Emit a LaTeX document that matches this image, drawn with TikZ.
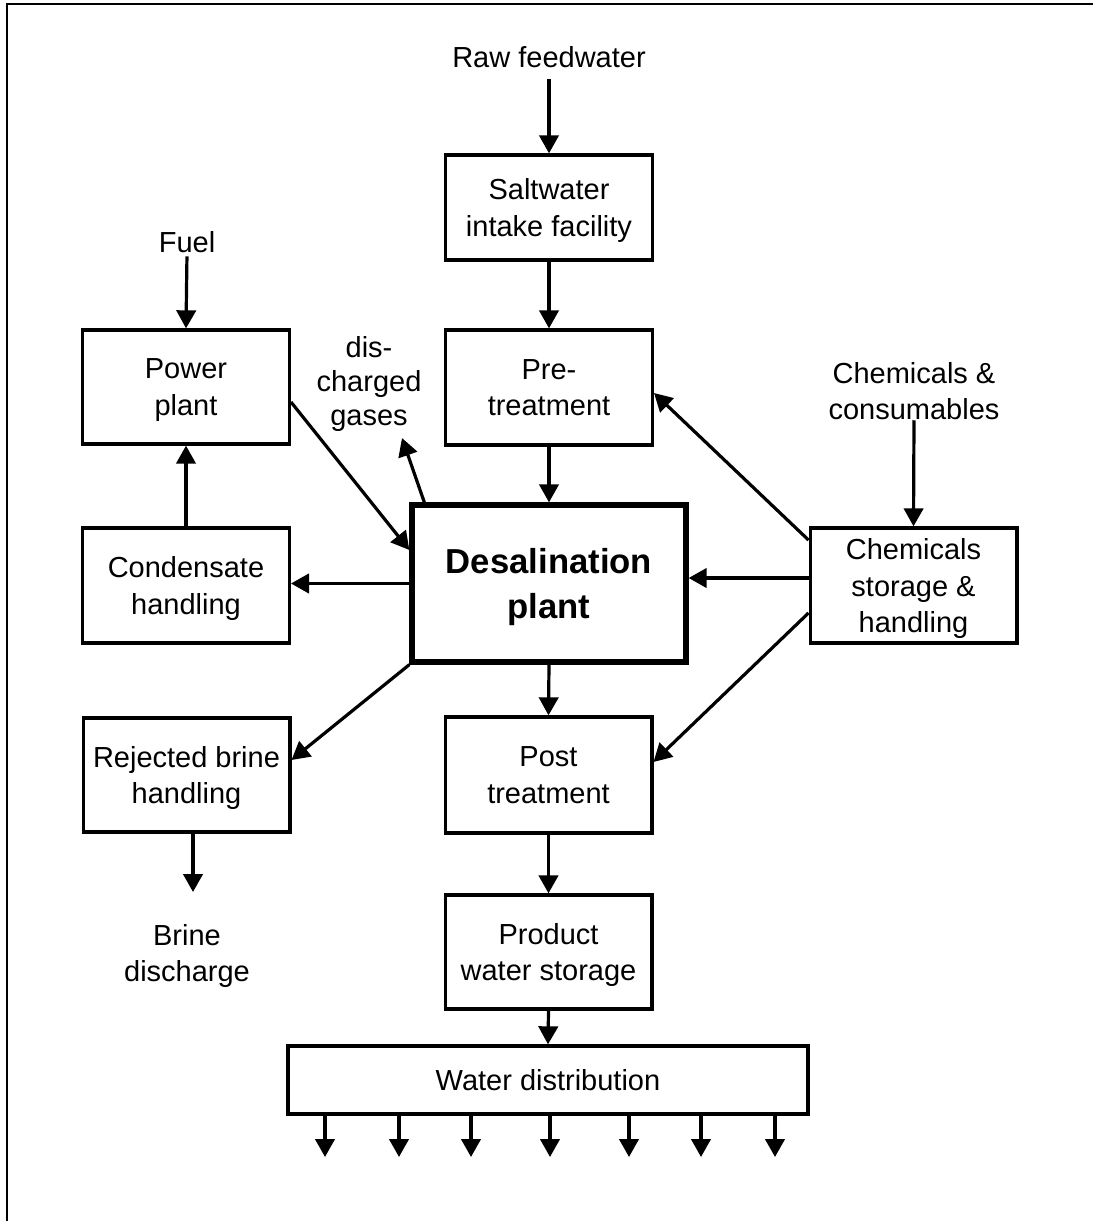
\documentclass[tikz,border=0pt]{standalone}
\usepackage{fontspec}
\setmainfont{Liberation Sans}
\usetikzlibrary{arrows.meta,calc}
\begin{document}
\begin{tikzpicture}[x=0.75pt,y=-0.75pt,
  txt/.style={font=\fontsize{21.75pt}{27.5pt}\selectfont, align=center, inner sep=0pt},
  box/.style={txt, draw, line width=2.5pt, text depth=0pt, minimum width=155pt, minimum height=86pt},
  arr/.style={line width=2.4pt, -{Triangle[length=13.5pt,width=14.5pt]}},
]
\useasboundingbox (0,0) rectangle (1093,1221);
\draw[line width=1.5pt] (7,1221) -- (7,4) -- (1093,4);

% boxes
\node[box, minimum height=78.75pt] (intake) at (549,207.5) {Saltwater\\intake facility};
\node[box, minimum height=86.25pt] (pre) at (549,387.5) {Pre-\\treatment};
\node[box, minimum height=85.5pt] (power) at (186,387) {Power\\plant};
\node[box, minimum height=86.25pt] (cond) at (186,585.5) {Condensate\\handling};
\node[box, minimum height=85.5pt] (rej) at (186.5,775) {Rejected brine\\handling};
\node[box, line width=4pt, minimum width=205.5pt, minimum height=117.75pt,
      font=\bfseries\fontsize{26pt}{34pt}\selectfont] (desal) at (549,583.5) {Desalination\\plant};
\node[box, minimum height=86.25pt] (chem) at (913.5,585.5) {Chemicals\\storage \&\\handling};
\node[box, minimum height=87pt] (post) at (548.5,775) {Post\\treatment};
\node[box, minimum height=85.5pt] (product) at (548.5,952) {Product\\water storage};
\node[box, minimum width=390pt, minimum height=51pt] (water) at (548,1080) {Water distribution};

% free labels
\node[txt] (raw) at (549,57) {Raw feedwater};
\node[txt] (fuel) at (187,242) {Fuel};
\node[txt, font=\fontsize{21.75pt}{25.5pt}\selectfont] (gases) at (369,384) {dis-\\charged\\gases};
\node[txt] (chemcons) at (914,391) {Chemicals \&\\consumables};
\node[txt] (brine) at (187,956) {Brine\\discharge};

\coordinate (gtip) at (402,438);
\coordinate (btip) at (193,892);

% main column
\draw[arr, shorten <=8pt] (raw.south) -- (intake.north);
\draw[arr] (intake.south) -- (pre.north);
\draw[arr] (pre.south) -- (desal.north);
\draw[arr] (desal.south) -- (post.north);
\draw[arr] (post.south) -- (product.north);
\draw[arr] (product.south) -- (water.north);

% left column
\draw[arr, shorten <=2.6pt] (fuel.south) -- (power.north);
\draw[arr] (cond.north) -- (power.south);
\draw[arr] (desal.west) -- (desal.west -| cond.east);
\draw[arr] ($(power.east)+(0,15)$) -- ($(desal.west)+(0,-33.5)$);
\draw[arr] ($(desal.north west)+(15,0)$) -- (gtip);
\draw[arr] (desal.south west) -- ($(rej.east)+(0,-15)$);
\draw[arr] (rej.south -| btip) -- (btip);

% right column
\draw[arr] (chemcons.south) -- (chem.north);
\draw[arr] ($(chem.west)+(0,-45.5)$) -- ($(pre.east)+(0,5.5)$);
\draw[arr] ($(chem.west)+(0,-7.5)$) -- ($(desal.east)+(0,-5.5)$);
\draw[arr] ($(chem.west)+(0,27.5)$) -- ($(post.east)+(0,-13)$);

% distribution outlets
\foreach \x [count=\i] in {325,399,471,550,629,701,775} {
  \coordinate (out\i) at (\x,1157);
  \draw[arr] (water.south -| out\i) -- (out\i);
}
\end{tikzpicture}
\end{document}
